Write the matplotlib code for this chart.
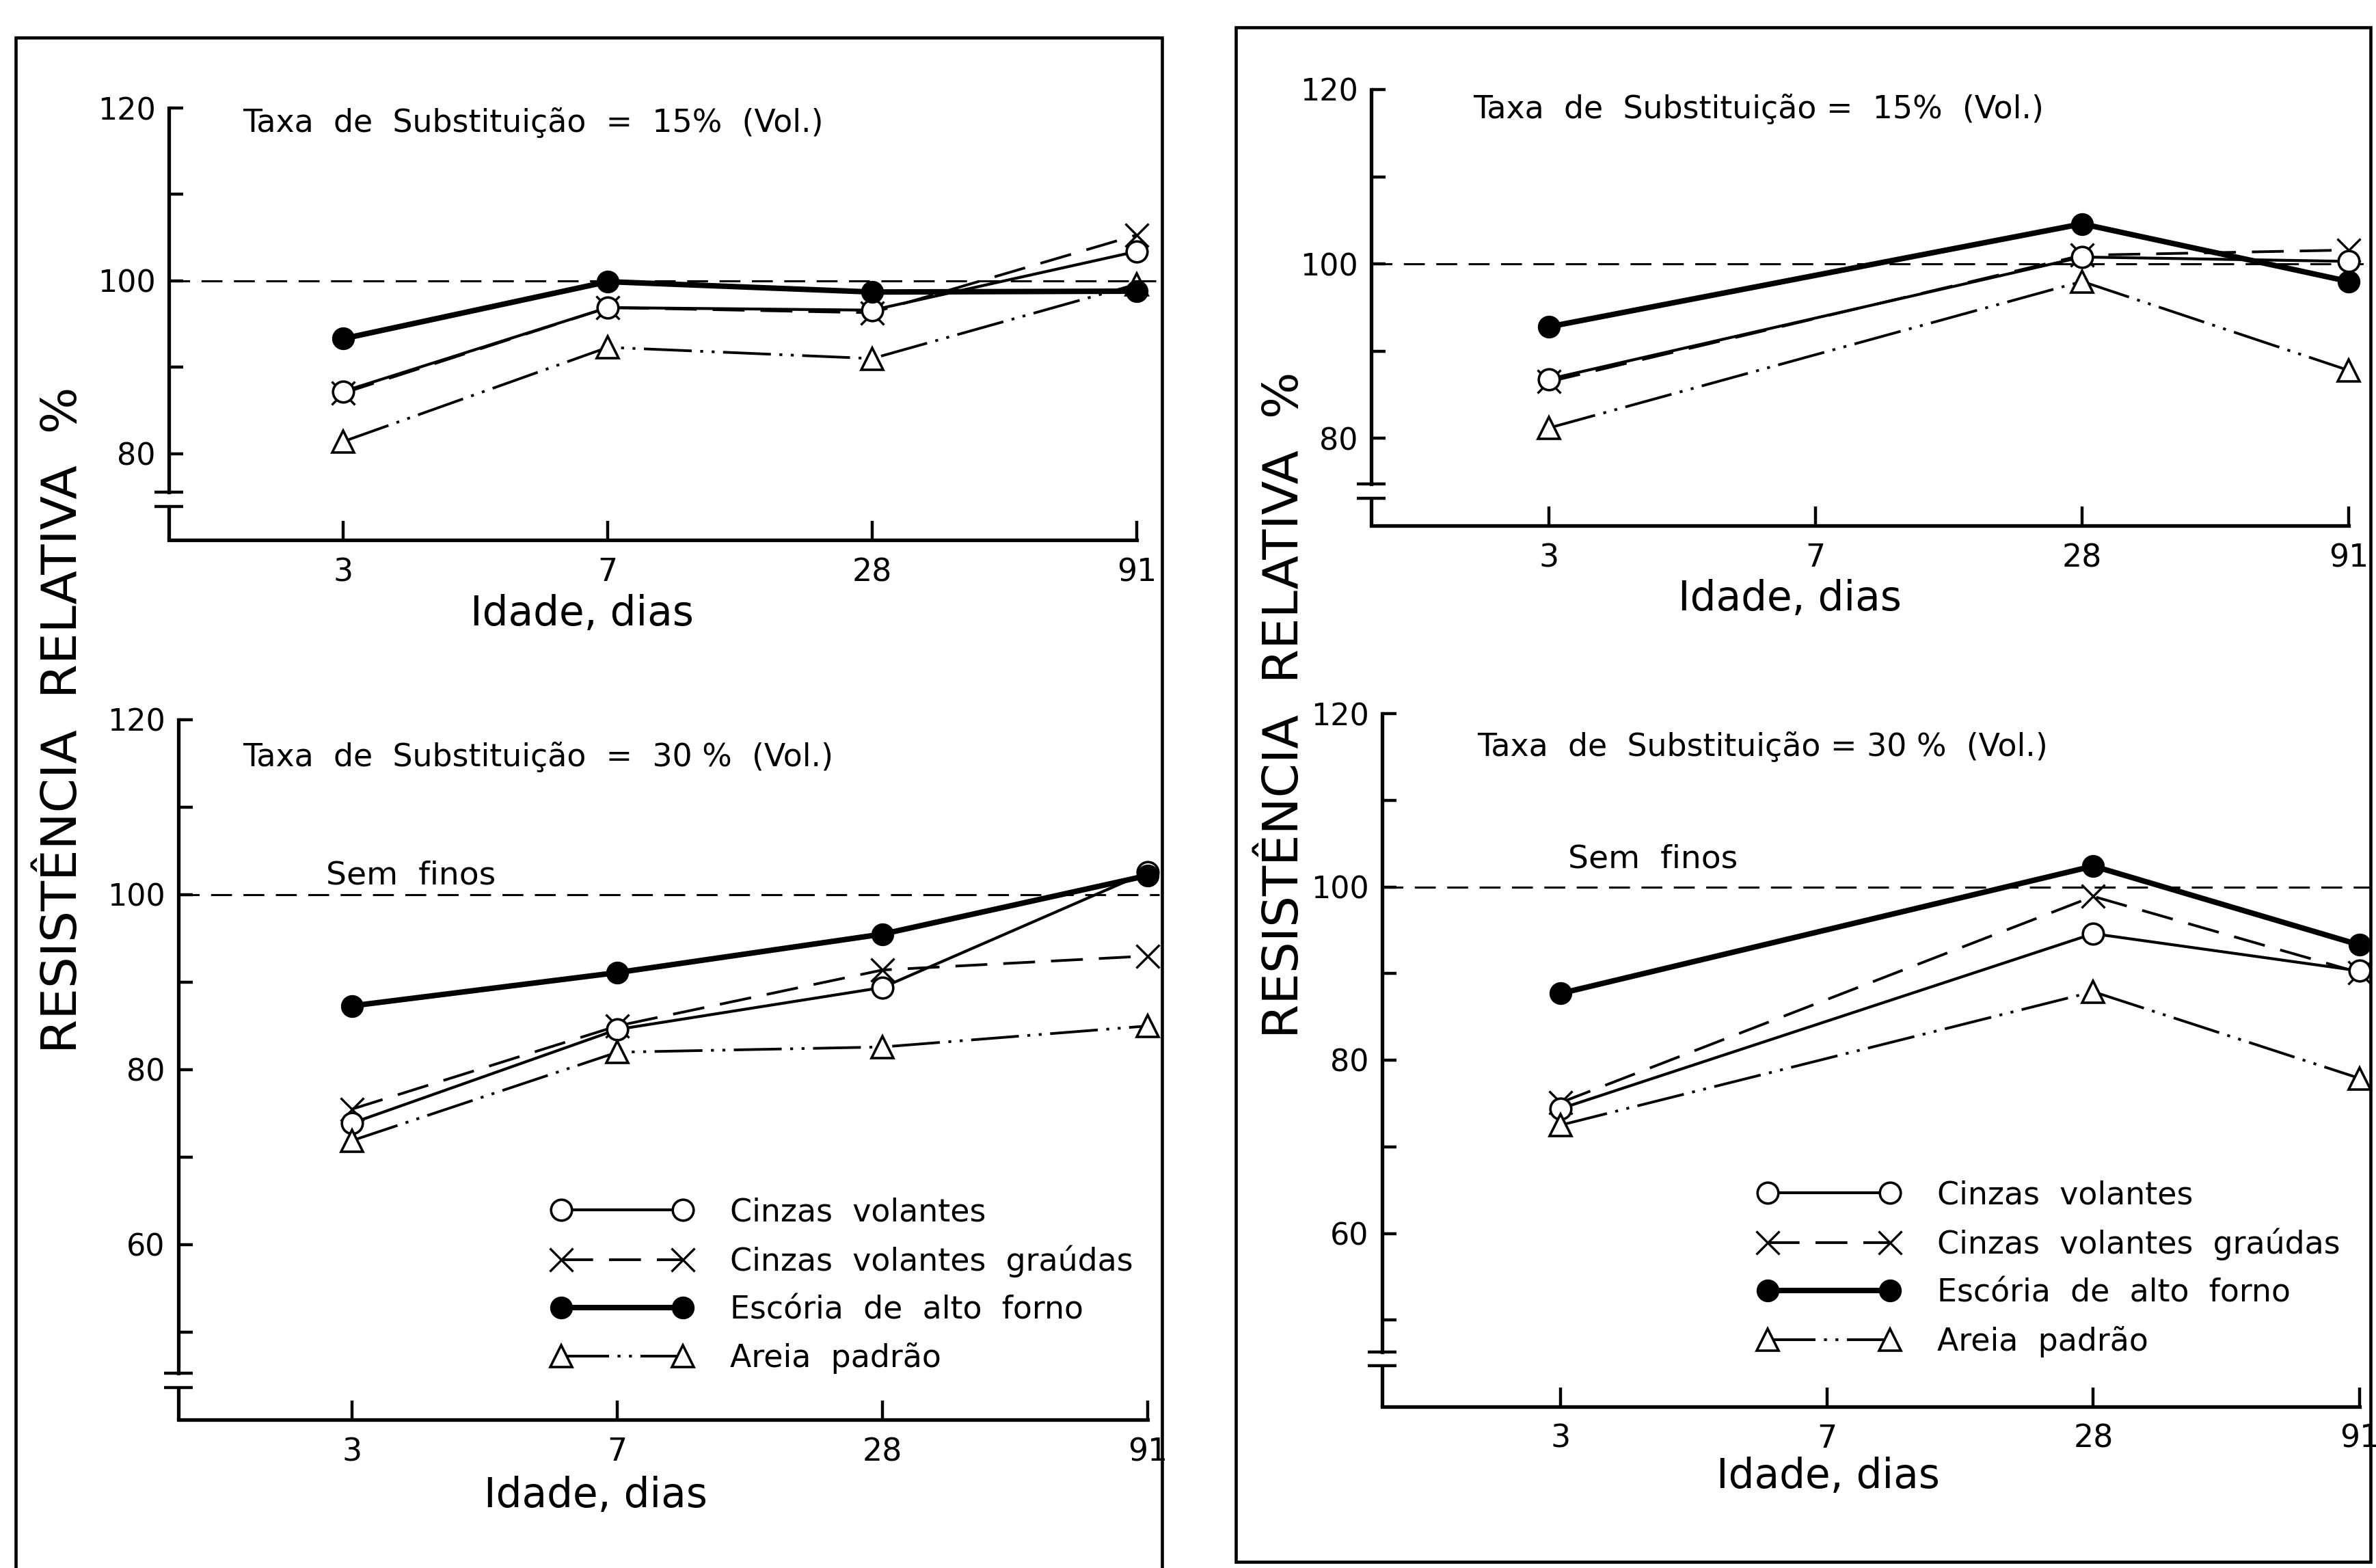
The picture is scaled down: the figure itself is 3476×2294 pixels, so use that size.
import numpy as np
import matplotlib
matplotlib.use('Agg')
import matplotlib.pyplot as plt
from matplotlib.patches import Rectangle

plt.rcParams['font.family'] = ['DejaVu Sans']

W, H = 3476, 2294
DPI = 100
nan = np.nan

# ---------------- data ----------------
ages = ['3', '7', '28', '91']
labels = ['Cinzas  volantes', 'Cinzas  volantes  graúdas',
          'Escória  de  alto  forno', 'Areia  padrão']

# left figure: 15 % (top) and 30 % (bottom)
tl_cinzas = [87.2, 96.9, 96.6, 103.4]
tl_graudas = [87.0, 96.9, 96.3, 105.3]
tl_escoria = [93.3, 99.9, 98.7, 98.8]
tl_areia = [81.4, 92.3, 91.0, 99.6]

bl_cinzas = [73.9, 84.6, 89.4, 102.6]
bl_graudas = [75.5, 85.0, 91.4, 93.0]
bl_escoria = [87.3, 91.1, 95.5, 102.2]
bl_areia = [71.9, 82.0, 82.6, 85.0]

# right figure: 15 % (top) and 30 % (bottom), no value at 7 days
tr_cinzas = [86.8, nan, 100.8, 100.3]
tr_graudas = [86.5, nan, 101.0, 101.6]
tr_escoria = [92.8, nan, 104.6, 98.0]
tr_areia = [81.2, nan, 98.0, 87.8]

br_cinzas = [74.4, nan, 94.6, 90.3]
br_graudas = [75.1, nan, 98.9, 90.1]
br_escoria = [87.7, nan, 102.4, 93.3]
br_areia = [72.5, nan, 87.9, 77.9]

reference = 100

# ---------------- styles ----------------
styles = [
    dict(ls='-', lw=3.0, marker='o', ms=22, mfc='white', mec='k', mew=2.6, zorder=4),
    dict(ls=(0, (12, 6)), lw=2.8, marker='x', ms=25, mec='k', mew=2.4, zorder=3),
    dict(ls='-', lw=5.8, marker='o', ms=23, mfc='k', mec='k', mew=1, zorder=5),
    dict(ls=(0, (18, 3.2, 1.1, 3.2, 1.1, 3.2)), lw=2.8, marker='^', ms=23,
         mfc='white', mec='k', mew=2.6, zorder=4),
]

fig = plt.figure(figsize=(W / DPI, H / DPI), dpi=DPI)
fig.patch.set_facecolor('white')


def px_rect(l, t, r, b):
    return [l / W, 1 - b / H, (r - l) / W, (b - t) / H]


def fx(x):
    return x / W


def fy(y):
    return 1 - y / H


panels = [
    dict(box=(247, 158, 1663, 790), ylim=(70, 120), xl=-0.66, brk=(73.9, 75.5),
         series=[tl_cinzas, tl_graudas, tl_escoria, tl_areia], ext=1.02,
         yt=[80, 90, 100, 110, 120]),
    dict(box=(261, 1053, 1679, 2077), ylim=(40, 120), xl=-0.655, brk=(43.7, 45.3),
         series=[bl_cinzas, bl_graudas, bl_escoria, bl_areia], ext=1.012,
         yt=[50, 60, 70, 80, 90, 100, 110, 120], legend=(0.385, 0.318)),
    dict(box=(2006, 131, 3436, 769), ylim=(70, 120), xl=-0.667, brk=(73.1, 74.8),
         series=[tr_cinzas, tr_graudas, tr_escoria, tr_areia], ext=1.022,
         yt=[80, 90, 100, 110, 120]),
    dict(box=(2022, 1044, 3452, 2058), ylim=(40, 120), xl=-0.67, brk=(44.7, 46.3),
         series=[br_cinzas, br_graudas, br_escoria, br_areia], ext=1.012,
         yt=[50, 60, 70, 80, 90, 100, 110, 120], legend=(0.385, 0.327)),
]

SPINE = 3.8
xidx = np.arange(len(ages))

for p in panels:
    ax = fig.add_axes(px_rect(*p['box']))
    ax.set_facecolor('none')
    ax.set_xlim(p['xl'], len(ages) - 1)
    ax.set_ylim(*p['ylim'])
    for s in ('top', 'right'):
        ax.spines[s].set_visible(False)
    ax.spines['bottom'].set_linewidth(SPINE)
    ax.spines['left'].set_linewidth(SPINE)
    lo, hi = p['brk']
    ax.spines['left'].set_bounds(hi, p['ylim'][1])
    yt = ax.get_yaxis_transform()
    ax.plot([0, 0], [p['ylim'][0], lo], transform=yt, color='k', lw=SPINE,
            clip_on=False, solid_capstyle='butt')
    for yb in (lo, hi):
        ax.plot([-0.015, 0.015], [yb, yb], transform=yt, color='k', lw=3.2,
                clip_on=False, solid_capstyle='butt')

    ax.set_xticks(xidx)
    ax.set_xticklabels(ages)
    ax.set_yticks(p['yt'])
    ax.set_yticklabels([str(v) if v % 20 == 0 else '' for v in p['yt']])
    ax.tick_params(axis='y', direction='in', length=15, width=3.2, labelsize=32, pad=14)
    ax.tick_params(axis='x', direction='in', length=20, width=3.2, labelsize=33, pad=18)

    ax.axhline(reference, xmin=0, xmax=p['ext'], color='k', lw=2.2,
               ls=(0, (10, 5.5)), clip_on=False, zorder=1)

    handles = []
    for vals, st, lab in zip(p['series'], styles, labels):
        v = np.array(vals, dtype=float)
        m = ~np.isnan(v)
        ln, = ax.plot(xidx[m], v[m], color='k', clip_on=False, label=lab, **st)
        handles.append(ln)

    if 'legend' in p:
        ax.legend(handles=handles, loc='upper left', bbox_to_anchor=p['legend'],
                  frameon=False, numpoints=2, handlelength=4.5, handletextpad=1.2,
                  labelspacing=0.55, borderpad=0, borderaxespad=0, fontsize=33)

# titles inside panels
fig.text(fx(355), fy(180), 'Taxa  de  Substituição  =  15%  (Vol.)', fontsize=33,
         ha='left', va='center')
fig.text(fx(2155), fy(160), 'Taxa  de  Substituição =  15%  (Vol.)', fontsize=33,
         ha='left', va='center')
fig.text(fx(355), fy(1108), 'Taxa  de  Substituição  =  30 %  (Vol.)', fontsize=33,
         ha='left', va='center')
fig.text(fx(2161), fy(1093), 'Taxa  de  Substituição = 30 %  (Vol.)', fontsize=33,
         ha='left', va='center')

# "Sem finos"
fig.text(fx(477), fy(1281), 'Sem  finos', fontsize=34, ha='left', va='center')
fig.text(fx(2294), fy(1257), 'Sem  finos', fontsize=34, ha='left', va='center')

# x labels
for (x, y) in [(851, 898), (2618, 876), (871, 2188), (2674, 2161)]:
    fig.text(fx(x), fy(y), 'Idade, dias', fontsize=43, ha='center', va='center')

# y labels
for (x, y) in [(93, 1053), (1880, 1031)]:
    fig.text(fx(x), fy(y), 'RESISTÊNCIA  RELATIVA  %', fontsize=52, rotation=90,
             ha='center', va='center')

# frames
fig.add_artist(Rectangle((fx(23), fy(2400)), (1700 - 23) / W, (2400 - 55) / H,
                         transform=fig.transFigure, fill=False, lw=3.3, ec='k'))
fig.add_artist(Rectangle((fx(1808), fy(2285)), (3468 - 1808) / W, (2285 - 40) / H,
                         transform=fig.transFigure, fill=False, lw=3.3, ec='k'))

fig.savefig('out.png', dpi=DPI, facecolor='white')
